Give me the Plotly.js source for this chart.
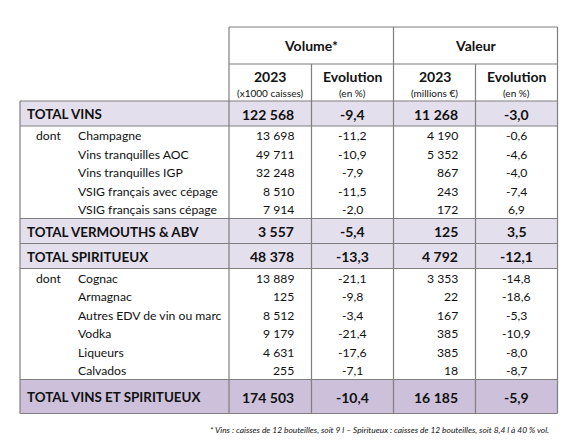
<!DOCTYPE html>
<html>
<head>
<meta charset="utf-8">
<script src="https://cdn.plot.ly/plotly-3.0.1.min.js"></script>
<style>html,body{margin:0;padding:0;background:#fff;}#chart{width:580px;height:442px;}</style>
</head>
<body>
<div id="chart"></div>
<script>
// ---- Data ----
const labels = ["TOTAL VINS", "Champagne", "Vins tranquilles AOC", "Vins tranquilles IGP",
  "VSIG français avec cépage", "VSIG français sans cépage", "TOTAL VERMOUTHS & ABV",
  "TOTAL SPIRITUEUX", "Cognac", "Armagnac", "Autres EDV de vin ou marc", "Vodka",
  "Liqueurs", "Calvados", "TOTAL VINS ET SPIRITUEUX"];
const rowTypes = ["total", "detail", "detail", "detail", "detail", "detail", "total",
  "total", "detail", "detail", "detail", "detail", "detail", "detail", "grand"];
const volume2023 = [122568, 13698, 49711, 32248, 8510, 7914, 3557, 48378, 13889, 125, 8512, 9179, 4631, 255, 174503];
const volumeEvol = [-9.4, -11.2, -10.9, -7.9, -11.5, -2.0, -5.4, -13.3, -21.1, -9.8, -3.4, -21.4, -17.6, -7.1, -10.4];
const valeur2023 = [11268, 4190, 5352, 867, 243, 172, 125, 4792, 3353, 22, 167, 385, 385, 18, 16185];
const valeurEvol = [-3.0, -0.6, -4.6, -4.0, -7.4, 6.9, 3.5, -12.1, -14.8, -18.6, -5.3, -10.9, -8.0, -8.7, -5.9];
const groupHeaders = ["Volume*", "Valeur"];
const subHeaders = ["2023", "Evolution", "2023", "Evolution"];
const subUnits = ["(x1000 caisses)", "(en %)", "(millions €)", "(en %)"];
const prefixWord = "dont";
const footnote = "* Vins : caisses de 12 bouteilles, soit 9 l – Spiritueux : caisses de 12 bouteilles, soit 8,4 l à 40 % vol.";

// ---- Layout geometry ----
const FONT = "Lato, 'Open Sans', 'DejaVu Sans', sans-serif";
const xL = 20, xC = [229, 311.5, 393.5, 475.5, 557.5];
const yTop = 27, yMid = 64, yHead = 101;
const rowH = {total: 25, detail: 18.5, grand: 34};
const fills = {total: "#E4DFEC", grand: "#CCC0DA"};
const LINE = "#7f7f7f";
const TXT = "#111111";

function fmtInt(v) { return String(v).replace(/\B(?=(\d{3})+(?!\d))/g, " "); }
function fmtDec(v) { return v.toFixed(1).replace(".", ","); }

const shapes = [];
const ann = [];
function hline(y, x0, x1) { shapes.push({type: "line", xref: "x", yref: "y", x0: x0, x1: x1, y0: y, y1: y, line: {color: LINE, width: 1.2}}); }
function vline(x, y0, y1) { shapes.push({type: "line", xref: "x", yref: "y", x0: x, x1: x, y0: y0, y1: y1, line: {color: LINE, width: 1.2}}); }
function text(t, x, y, anchor, size, bold, italic) {
  ann.push({text: bold ? "<b>" + t + "</b>" : (italic ? "<i>" + t + "</i>" : t), x: x, y: y, xref: "x", yref: "y",
    xanchor: anchor, yanchor: "middle", showarrow: false,
    font: {family: FONT, size: size, color: TXT}});
}

// Row positions
let y = yHead;
const rowsY = [];
rowTypes.forEach((t) => { rowsY.push([y, y + rowH[t]]); y += rowH[t]; });
const yBottom = y;

// Fills
rowTypes.forEach((t, i) => {
  if (fills[t]) shapes.push({type: "rect", xref: "x", yref: "y", x0: xL, x1: xC[4], y0: rowsY[i][0], y1: rowsY[i][1], fillcolor: fills[t], line: {width: 0}, layer: "below"});
});

// Header
const hdrCenters = [(xC[0] + xC[2]) / 2, (xC[2] + xC[4]) / 2];
groupHeaders.forEach((h, i) => text(h, hdrCenters[i], (yTop + yMid) / 2, "center", 14, true));
subHeaders.forEach((h, i) => {
  const cx = (xC[i] + xC[i + 1]) / 2;
  text(h, cx, 76.5, "center", 14, true);
  text(subUnits[i], cx, 92.5, "center", 10, false);
});

// Rows
let prevType = null;
rowTypes.forEach((t, i) => {
  const cy = (rowsY[i][0] + rowsY[i][1]) / 2 + 0.5;
  const isTot = t !== "detail";
  const fs = isTot ? 14 : 12.2;
  if (isTot) {
    text(labels[i], 25, cy, "left", 13.4, true);
  } else {
    if (prevType !== "detail") text(prefixWord, 34, cy, "left", fs, false);
    text(labels[i], 76, cy, "left", fs, false);
  }
  text(fmtInt(volume2023[i]), xC[1] - 15.5, cy, "right", fs, isTot);
  text(fmtDec(volumeEvol[i]), (xC[1] + xC[2]) / 2, cy, "center", fs, isTot);
  text(fmtInt(valeur2023[i]), xC[3] - 15.5, cy, "right", fs, isTot);
  text(fmtDec(valeurEvol[i]), (xC[3] + xC[4]) / 2, cy, "center", fs, isTot);
  prevType = t;
});

// Lines
hline(yTop, xC[0], xC[4]);
hline(yMid, xC[0], xC[4]);
hline(yHead, xL, xC[4]);
rowTypes.forEach((t, i) => {
  const next = rowTypes[i + 1];
  if (t !== "detail" || next !== "detail") hline(rowsY[i][1], xL, xC[4]);
});
vline(xL, yHead, yBottom);
vline(xC[0], yTop, yBottom);
vline(xC[2], yTop, yBottom);
vline(xC[4], yTop, yBottom);
vline(xC[1], yMid, yBottom);
vline(xC[3], yMid, yBottom);

// Footnote
text(footnote, 551, 430, "right", 8.4, false, true);

const layout = {
  width: 580, height: 442,
  margin: {l: 0, r: 0, t: 0, b: 0},
  paper_bgcolor: "#ffffff", plot_bgcolor: "#ffffff",
  xaxis: {range: [0, 580], visible: false, fixedrange: true},
  yaxis: {range: [442, 0], visible: false, fixedrange: true},
  showlegend: false,
  shapes: shapes,
  annotations: ann
};
Plotly.newPlot("chart", [{x: [], y: [], type: "scatter", hoverinfo: "skip"}], layout, {displayModeBar: false, staticPlot: true});
</script>
</body>
</html>
